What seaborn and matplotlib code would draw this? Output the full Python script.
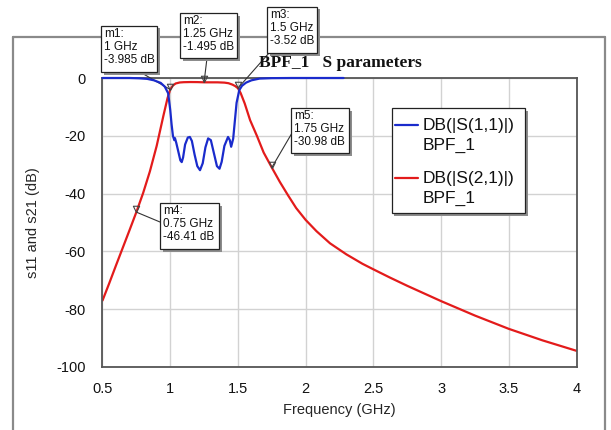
import numpy as np
import pandas as pd
import matplotlib
matplotlib.use("Agg")
import matplotlib.pyplot as plt
import seaborn as sns
from matplotlib.patches import Rectangle
from matplotlib.lines import Line2D
from matplotlib.path import Path

# ---------------- data ----------------
freq_s21 = [0.5, 0.55, 0.6, 0.65, 0.7, 0.75, 0.8, 0.85, 0.9, 0.95, 0.98, 1.0, 1.02, 1.04,
            1.07, 1.1, 1.15, 1.2, 1.25, 1.3, 1.35, 1.4, 1.43, 1.46, 1.48, 1.5, 1.52, 1.55,
            1.59, 1.64, 1.69, 1.75, 1.81, 1.87, 1.93, 2.0, 2.08, 2.18, 2.3, 2.42, 2.5,
            2.62, 2.75, 3.0, 3.25, 3.5, 3.75, 4.0]
db_s21 = [-77.0, -71.0, -64.8, -58.7, -52.6, -46.41, -39.8, -32.3, -23.5, -13.0, -7.0,
          -3.985, -2.6, -1.9, -1.55, -1.45, -1.4, -1.42, -1.495, -1.5, -1.5, -1.6, -1.8,
          -2.3, -2.8, -3.52, -5.2, -8.8, -14.6, -20.0, -25.8, -30.98, -36.0, -40.6, -45.0,
          -49.1, -53.0, -57.2, -61.0, -64.3, -66.2, -69.0, -71.9, -77.2, -82.2, -86.8,
          -90.8, -94.4]

freq_s11 = [0.5, 0.7, 0.77, 0.83, 0.88, 0.93, 0.96, 0.985, 1.0, 1.01, 1.02, 1.03, 1.035,
            1.045, 1.06, 1.075, 1.085, 1.095, 1.11, 1.13, 1.145, 1.16, 1.18, 1.2, 1.22,
            1.24, 1.26, 1.28, 1.3, 1.32, 1.345, 1.364, 1.38, 1.40, 1.427, 1.44, 1.45,
            1.465, 1.475, 1.49, 1.51, 1.53, 1.56, 1.6, 1.66, 1.75, 1.9, 2.28]
db_s11 = [0.0, 0.0, -0.1, -0.3, -0.8, -1.7, -3.0, -5.3, -11.0, -16.0, -20.0, -21.5, -20.8,
          -22.5, -25.5, -28.5, -29.1, -27.5, -23.0, -20.6, -20.4, -21.8, -26.5, -30.5,
          -31.9, -29.5, -24.0, -20.9, -21.5, -25.5, -30.5, -31.4, -29.0, -23.5, -20.4,
          -21.5, -23.8, -21.0, -16.0, -8.6, -4.2, -2.7, -1.6, -0.8, -0.2, -0.05, 0.0, 0.0]

marker_names = ["m1", "m2", "m3", "m4", "m5"]
marker_freq = [1.0, 1.25, 1.5, 0.75, 1.75]
marker_db = [-3.985, -1.495, -3.52, -46.41, -30.98]

x_ticks = [0.5, 1, 1.5, 2, 2.5, 3, 3.5, 4]
x_tick_labels = ["0.5", "1", "1.5", "2", "2.5", "3", "3.5", "4"]
y_ticks = [0, -20, -40, -60, -80, -100]
y_tick_labels = ["0", "-20", "-40", "-60", "-80", "-100"]

series_names = ["DB(|S(1,1)|)", "DB(|S(2,1)|)"]
series_source = "BPF_1"
title_text = "BPF_1   S parameters"
x_label = "Frequency (GHz)"
y_label = "s11 and s21 (dB)"

# ---------------- style ----------------
W, H = 611, 430
RED = "#e31b1b"
BLUE = "#1a2bcc"
sns.set_style("white")
plt.rcParams["font.family"] = ["Liberation Sans", "DejaVu Sans"]
plt.rcParams["axes.unicode_minus"] = False

fig = plt.figure(figsize=(W / 100, H / 100), dpi=100)
fig.patch.set_facecolor("white")

L, R, T, B = 102.5, 576.5, 78, 367
ax = fig.add_axes([L / W, 1 - B / H, (R - L) / W, (B - T) / H])

df21 = pd.DataFrame({"freq": freq_s21, "db": db_s21})
df11 = pd.DataFrame({"freq": freq_s11, "db": db_s11})
sns.lineplot(data=df21, x="freq", y="db", ax=ax, color=RED, lw=1.6,
             sort=False, estimator=None)
sns.lineplot(data=df11, x="freq", y="db", ax=ax, color=BLUE, lw=1.6,
             sort=False, estimator=None)
ax.lines[-1].set_clip_on(False)
ax.lines[-1].set_zorder(4)

ax.set_xlim(0.5, 4)
ax.set_ylim(-100, 0)
ax.set_xticks(x_ticks)
ax.set_xticklabels(x_tick_labels)
ax.set_yticks(y_ticks)
ax.set_yticklabels(y_tick_labels)
ax.tick_params(axis="both", length=0, labelsize=10.5, colors="#111111")
ax.tick_params(axis="y", pad=12)
ax.tick_params(axis="x", pad=11)
ax.grid(True, color="#d2d2d2", lw=1.0)
for s in ax.spines.values():
    s.set_color("#555555")
    s.set_linewidth(1.3)

ax.set_xlabel(x_label, fontsize=10.5)
ax.set_ylabel(y_label, fontsize=10.5)
ax.xaxis.set_label_coords(0.5, (B - 403) / (B - T))
ax.yaxis.set_label_coords((40 - L) / (R - L), 0.5)

# markers (apex of triangle at data point)
tri = Path([(-0.5, 1.0), (0.5, 1.0), (0.0, 0.0), (-0.5, 1.0)],
           [Path.MOVETO, Path.LINETO, Path.LINETO, Path.CLOSEPOLY])
ax.plot(marker_freq, marker_db, ls="none", marker=tri, ms=9, mfc="none",
        mec="#444444", mew=0.8, zorder=5, clip_on=False)

# ---------------- figure decorations ----------------
def fx(x):
    return x / W

def fy(y):
    return 1 - y / H

# outer frame
for xs, ys in [([13, 13], [37, 440]), ([13, 605], [37, 37]), ([605, 605], [37, 440])]:
    fig.add_artist(Line2D([fx(v) for v in xs], [fy(v) for v in ys],
                          transform=fig.transFigure, color="#8a8a8a", lw=1.6, zorder=1))

# title
fig.text(fx(340), fy(63), title_text, ha="center", va="center",
         family=["Liberation Serif", "DejaVu Serif"], fontweight="bold", fontsize=12.5,
         color="#111111")

def box(l, t, r, b, z=10):
    fig.add_artist(Rectangle((fx(l + 2.5), fy(b + 2.5)), (r - l) / W, (b - t) / H,
                             transform=fig.transFigure, fc="#8c8c8c", ec="none", zorder=z))
    fig.add_artist(Rectangle((fx(l), fy(b)), (r - l) / W, (b - t) / H,
                             transform=fig.transFigure, fc="white", ec="#222222",
                             lw=0.9, zorder=z + 0.1))

# marker boxes: (left, top, right, bottom), leader attach point
mboxes = [((101, 26, 157, 72), (140, 72)),
          ((180, 13, 237, 58), (207, 58)),
          ((267, 7, 317, 53), (269, 53)),
          ((160, 203, 219, 249), (160, 222)),
          ((291, 108, 349, 153), (292, 133))]

for name, f, d, (bx, att) in zip(marker_names, marker_freq, marker_db, mboxes):
    l, t, r, b = bx
    ax.annotate("", xy=(f, d), xycoords="data", xytext=(att[0], H - att[1]),
                textcoords="figure pixels", annotation_clip=False,
                arrowprops=dict(arrowstyle="-", color="#333333", lw=0.8,
                                shrinkA=0, shrinkB=0))
    box(l, t, r, b)
    for k, s in enumerate([f"{name}:", f"{f:g} GHz", f"{d:g} dB"]):
        fig.text(fx(l + 3), fy(t + 8 + 13 * k), s, ha="left", va="center",
                 fontsize=8.5, color="#111111", zorder=11)

# legend
box(392, 108, 525, 213)
for k, (nm, col) in enumerate(zip(series_names, [BLUE, RED])):
    y0 = 125 + 53 * k
    fig.add_artist(Line2D([fx(395), fx(418)], [fy(y0), fy(y0)], transform=fig.transFigure,
                          color=col, lw=1.6, zorder=11))
    fig.text(fx(423), fy(y0), nm, ha="left", va="center", fontsize=12.5,
             color="#111111", zorder=11)
    fig.text(fx(423), fy(y0 + 20), series_source, ha="left", va="center", fontsize=12.5,
             color="#111111", zorder=11)

fig.savefig("out.png", dpi=100)
